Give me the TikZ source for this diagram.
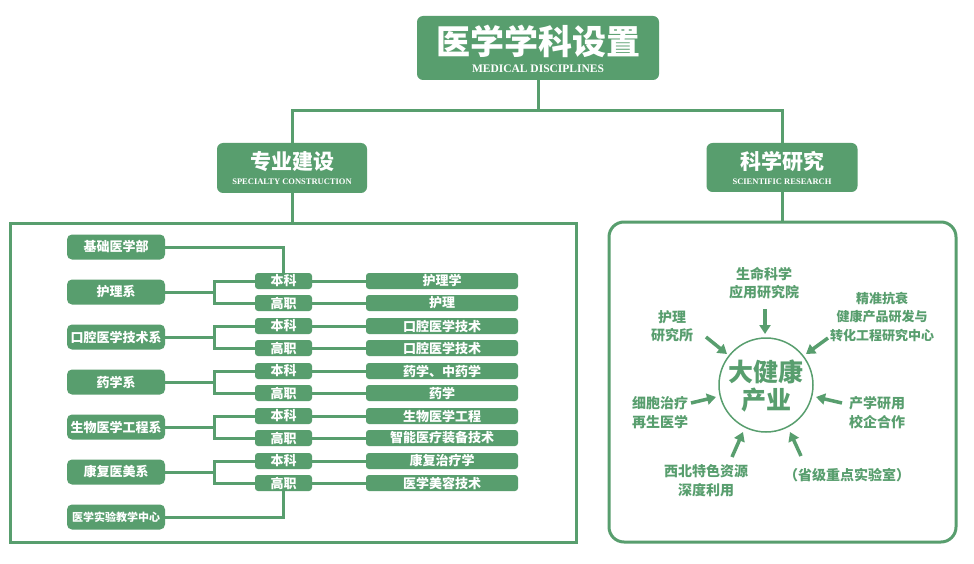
\documentclass[tikz,border=0pt]{standalone}
\usepackage{fontspec}
\newfontfamily\cjk{Noto Sans CJK SC}
\newfontfamily\enf{Liberation Serif}
\usetikzlibrary{arrows.meta}
\definecolor{gr}{RGB}{88,158,110}
\newcommand{\fsz}[1]{\fontsize{#1}{#1}\selectfont}
\begin{document}
\begin{tikzpicture}[x=1pt,y=-1pt,
  ln/.style={draw=gr, line width=3pt},
  tbox/.style={fill=gr, rounded corners=6pt, inner sep=0pt},
  ttext/.style={text=white, inner sep=0pt, font=\cjk\bfseries},
  etext/.style={text=white, inner sep=0pt, font=\enf\bfseries},
  dept/.style={fill=gr, rounded corners=5pt, inner sep=0pt, minimum width=98pt, minimum height=25pt, text=white, font=\cjk\bfseries\fsz{13}},
  lvl/.style={fill=gr, rounded corners=3pt, inner sep=0pt, minimum width=57pt, minimum height=16pt, text=white, font=\cjk\bfseries\fsz{13}},
  prog/.style={fill=gr, rounded corners=3pt, inner sep=0pt, minimum width=152pt, minimum height=16pt, text=white, font=\cjk\bfseries\fsz{13}},
  rtext/.style={text=gr, inner sep=0pt, align=center, font=\cjk\bfseries\fontsize{14}{18.5}\selectfont},
  arr/.style={draw=gr, line width=3.5pt, -{Triangle[length=9pt,width=11pt]}}
]
\useasboundingbox (0,0) rectangle (974,564);
\fill[white] (0,0) rectangle (974,564);

% title
\node[tbox, minimum width=242pt, minimum height=64pt] (title) at (538,48) {};
\node[ttext, font=\cjk\bfseries\fsz{34}] (titlezh) at (538,41) {医学学科设置};
\node[etext, font=\enf\bfseries\fsz{11.5}] (titleen) at (538,68.5) {MEDICAL DISCIPLINES};

% second level
\node[tbox, minimum width=150pt, minimum height=50pt] (zy) at (292,168) {};
\node[ttext, font=\cjk\bfseries\fsz{21}] (zyzh) at (292,161.5) {专业建设};
\node[etext, font=\enf\bfseries\fsz{8.5}] (zyen) at (292,181.5) {SPECIALTY CONSTRUCTION};

\node[tbox, minimum width=151pt, minimum height=49pt] (ky) at (782,167.5) {};
\node[ttext, font=\cjk\bfseries\fsz{21}] (kyzh) at (782,161.5) {科学研究};
\node[etext, font=\enf\bfseries\fsz{8.5}] (kyen) at (782,181.5) {SCIENTIFIC RESEARCH};

\coordinate (hub) at (538,111);
\draw[ln] (title.south) -- (hub);
\draw[ln] (zy.north) |- (hub) -| (ky.north);

% frames
\node[draw=gr, line width=3pt, minimum width=566pt, minimum height=319pt, inner sep=0pt] (lbox) at (293,382.5) {};
\node[draw=gr, line width=3pt, rounded corners=15pt, minimum width=347pt, minimum height=320pt, inner sep=0pt] (rbox) at (782.5,382) {};
\draw[ln] (zy.south) -- (zy.south |- lbox.north);
\draw[ln] (ky.south) -- (ky.south |- rbox.north);

% departments
\node[dept] (jc) at (116,247) {基础医学部};
\node[dept, font=\cjk\bfseries\fsz{11}] (sy) at (116,517) {医学实验教学中心};
\foreach \i/\y/\d/\pa/\pb in {1/292/护理系/护理学/护理,
  2/337/口腔医学技术系/口腔医学技术/口腔医学技术,
  3/382/药学系/药学、中药学/药学,
  4/427/生物医学工程系/生物医学工程/智能医疗装备技术,
  5/472/康复医美系/康复治疗学/医学美容技术}{
  \node[dept] (d\i) at (116,\y) {\d};
  \node[lvl] (b\i) at (283.5,\y-11) {本科};
  \node[lvl] (g\i) at (283.5,\y+11) {高职};
  \node[prog] (p\i) at (442,\y-11) {\pa};
  \node[prog] (q\i) at (442,\y+11) {\pb};
  \coordinate (m\i) at (214,\y);
  \draw[ln] (d\i.east) -- (m\i);
  \draw[ln] (b\i.west) -| (m\i) |- (g\i.west);
  \draw[ln] (b\i.east) -- (p\i.west);
  \draw[ln] (g\i.east) -- (q\i.west);
}
\draw[ln] (jc.east) -| (b1.north);
\draw[ln] (sy.east) -| (g5.south);

% research
\node[draw=gr, line width=1.5pt, circle, minimum size=94pt, inner sep=0pt] (c) at (766,385) {};
\node[text=gr, inner sep=0pt, align=center, font=\cjk\bfseries\fontsize{25}{28}\selectfont] (ct) at (766,386) {大健康\\产业};

\node[rtext] (r1) at (764,283) {生命科学\\应用研究院};
\node[rtext] (r2) at (672,326) {护理\\研究所};
\node[rtext, font=\cjk\bfseries\fontsize{13}{18.5}\selectfont] (r3) at (882,317) {精准抗衰\\健康产品研发与\\转化工程研究中心};
\node[rtext] (r4) at (660,412.5) {细胞治疗\\再生医学};
\node[rtext] (r5) at (877,412.5) {产学研用\\校企合作};
\node[rtext] (r6) at (706,480.5) {西北特色资源\\深度利用};
\node[rtext] (r7) at (847,475) {（省级重点实验室）};

\coordinate (a1s) at (765,309); \coordinate (a1e) at (765,334);
\coordinate (a2s) at (706,337); \coordinate (a2e) at (727,354);
\coordinate (a3s) at (828,338); \coordinate (a3e) at (806,354);
\coordinate (a4s) at (691,403); \coordinate (a4e) at (716,397);
\coordinate (a5s) at (842,403); \coordinate (a5e) at (816,397);
\coordinate (a6s) at (732,457); \coordinate (a6e) at (743,432);
\coordinate (a7s) at (801,456); \coordinate (a7e) at (790,432);
\foreach \k in {1,...,7}{\draw[arr] (a\k s) -- (a\k e);}
\end{tikzpicture}
\end{document}
